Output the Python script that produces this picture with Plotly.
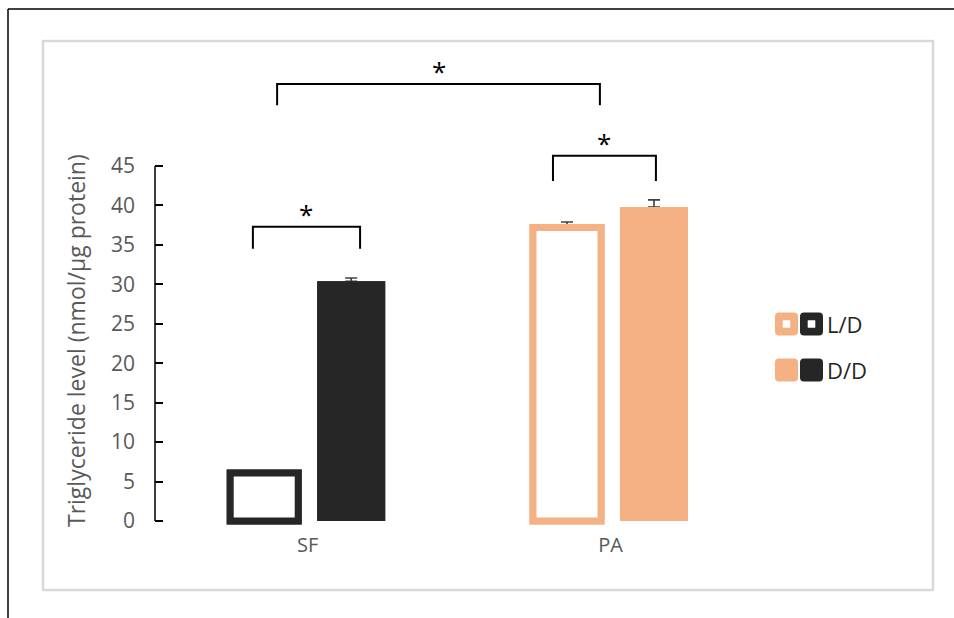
import plotly.graph_objects as go

# ---- data ----
categories = ["SF", "PA"]
series_names = ["L/D", "D/D"]
ld_values = [6.1, 37.2]
ld_err = [0.2, 0.7]
dd_values = [30.4, 39.8]
dd_err = [0.4, 0.9]
group_colors = ["#262626", "#F4B183"]
y_ticks = [0, 5, 10, 15, 20, 25, 30, 35, 40, 45]

# significance brackets: (x start, x end, bar height, leg bottom) in axis units
brackets = [
    (-0.181, 0.173, 37.3, 34.5),
    (0.810, 1.150, 46.3, 43.1),
    (-0.101, 0.965, 55.4, 52.7),
]

# ---- layout geometry (pixels) ----
W, H = 954, 618
L, R, T, B = 155, 214, 50, 93
PW, PH = W - L - R, H - T - B


def px(x):
    return (x - L) / PW


def py(y):
    return (H - B - y) / PH


x_pos = list(range(len(categories)))

series = [
    (series_names[0], ld_values, ld_err,
     dict(color="white", line=dict(color=group_colors, width=7))),
    (series_names[1], dd_values, dd_err,
     dict(color=group_colors, line=dict(width=0))),
]

fig = go.Figure()
# first pass: bars carrying the upper error bars
for name, vals, errs, marker in series:
    fig.add_trace(go.Bar(
        x=x_pos, y=vals, name=name, offsetgroup=name, marker=marker,
        error_y=dict(type="data", array=errs, arrayminus=[0] * len(errs),
                     symmetric=False, color="#404040", thickness=1.6, width=6),
        showlegend=False, hoverinfo="skip",
    ))
# second pass: same bars on top so only the upward whisker shows
for name, vals, errs, marker in series:
    fig.add_trace(go.Bar(
        x=x_pos, y=vals, name=name, offsetgroup=name, marker=marker,
        showlegend=False,
    ))

shapes = []
annotations = []

# y axis line from 0 to the top tick only
shapes.append(dict(type="line", xref="paper", yref="y", x0=0, x1=0,
                   y0=0, y1=y_ticks[-1], line=dict(color="black", width=1.5)))

# brackets with asterisks
for x0, x1, ytop, yleg in brackets:
    shapes.append(dict(
        type="path", xref="x", yref="y",
        path=f"M {x0},{yleg} L {x0},{ytop} L {x1},{ytop} L {x1},{yleg}",
        line=dict(color="black", width=2)))
    annotations.append(dict(
        x=(x0 + x1) / 2, y=ytop, xref="x", yref="y", text="*",
        showarrow=False, yanchor="bottom", yshift=-7,
        font=dict(family="Open Sans", size=26, color="black")))


def rounded_square(half, r):
    h = half
    return (f"M {-h + r},{-h} L {h - r},{-h} Q {h},{-h} {h},{-h + r} "
            f"L {h},{h - r} Q {h},{h} {h - r},{h} L {-h + r},{h} "
            f"Q {-h},{h} {-h},{h - r} L {-h},{-h + r} Q {-h},{-h} {-h + r},{-h} Z")


# custom legend: each row shows both group colours for one series
legend_rows = [(324, True), (370, False)]
legend_cols = [(786.5, group_colors[1]), (811.5, group_colors[0])]
for (row_y, hollow), name in zip(legend_rows, series_names):
    for cx, col in legend_cols:
        shapes.append(dict(
            type="path", xref="paper", yref="paper",
            xsizemode="pixel", ysizemode="pixel",
            xanchor=px(cx), yanchor=py(row_y),
            path=rounded_square(11.5, 4), fillcolor=col,
            line=dict(width=0)))
        if hollow:
            shapes.append(dict(
                type="path", xref="paper", yref="paper",
                xsizemode="pixel", ysizemode="pixel",
                xanchor=px(cx), yanchor=py(row_y),
                path=rounded_square(3.8, 0.5), fillcolor="white",
                line=dict(width=0)))
    annotations.append(dict(
        x=px(825), y=py(row_y), xref="paper", yref="paper", text=name,
        showarrow=False, xanchor="left", yanchor="middle",
        font=dict(family="Open Sans", size=22, color="#262626")))

# y axis title
annotations.append(dict(
    x=px(76), y=py(341), xref="paper", yref="paper",
    text="Triglyceride level (nmol/µg protein)", textangle=-90,
    showarrow=False, xanchor="center", yanchor="middle",
    font=dict(family="Open Sans", size=23, color="#595959")))

# light grey chart frame and dark page rules
shapes.append(dict(type="rect", xref="paper", yref="paper",
                   x0=px(43), x1=px(933), y0=py(41), y1=py(590),
                   line=dict(color="#D9D9D9", width=2.5), layer="below"))
shapes.append(dict(type="line", xref="paper", yref="paper",
                   x0=px(8), x1=px(956), y0=py(9), y1=py(9),
                   line=dict(color="black", width=1.5)))
shapes.append(dict(type="line", xref="paper", yref="paper",
                   x0=px(8), x1=px(8), y0=py(9), y1=py(620),
                   line=dict(color="black", width=1.5)))

scale = 355 / 45.0
fig.update_layout(
    width=W, height=H,
    margin=dict(l=L, r=R, t=T, b=B, pad=0),
    paper_bgcolor="white", plot_bgcolor="white",
    barmode="group", bargap=0.4254, bargroupgap=0.218,
    font=dict(family="Open Sans", color="#595959"),
    xaxis=dict(
        range=[-152.7 / 302.8, -152.7 / 302.8 + PW / 302.8],
        tickvals=x_pos, ticktext=categories, ticks="",
        showline=False, showgrid=False, zeroline=False,
        tickfont=dict(family="Open Sans", size=20, color="#595959"),
        ticklabelstandoff=6,
    ),
    yaxis=dict(
        range=[-(H - B - 521) / scale, (521 - T) / scale],
        tickvals=y_ticks, ticks="inside", ticklen=8, tickwidth=1.5,
        tickcolor="black", showline=False, showgrid=False, zeroline=False,
        tickfont=dict(family="Open Sans", size=21, color="#595959"),
        ticklabelstandoff=19,
    ),
    shapes=shapes,
    annotations=annotations,
)

fig.write_html("out.html")
